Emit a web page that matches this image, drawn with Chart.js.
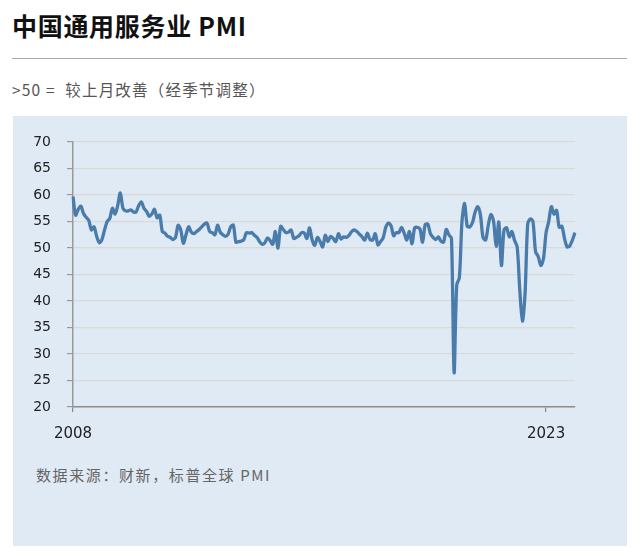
<!DOCTYPE html>
<html>
<head>
<meta charset="utf-8">
<script src="https://cdn.jsdelivr.net/npm/chart.js@4.4.0/dist/chart.umd.min.js"></script>
<style>
  body { margin: 0; width: 640px; height: 557px; background: #fff; position: relative; overflow: hidden;
         font-family: "Noto Sans CJK SC", "Noto Sans", sans-serif; }
  .title { position: absolute; left: 12px; top: 7px; font-size: 25px; font-weight: bold; color: #111; letter-spacing: 0.7px; }
  .rule { position: absolute; left: 12px; top: 58px; width: 615px; height: 0; border-top: 1.5px solid #aaa; }
  .sub { position: absolute; left: 12px; top: 78px; font-size: 15.5px; color: #555; letter-spacing: 1.2px; }
  .panel { position: absolute; left: 13px; top: 116px; width: 614px; height: 430px; background: #e0eaf5; }
  .source { position: absolute; left: 36px; top: 464px; font-size: 15px; color: #666; letter-spacing: 1.6px; }
  #wrap { position: absolute; left: 13px; top: 116px; width: 614px; height: 340px; }
</style>
</head>
<body>
<div class="title">中国通用服务业 PMI</div>
<div class="rule"></div>
<div class="sub">&gt;50 =&nbsp; 较上月改善（经季节调整）</div>
<div class="panel"></div>
<div id="wrap"><canvas id="pmi"></canvas></div>
<div class="source">数据来源：财新，标普全球 PMI</div>
<script>
// 月度数据 2008-01 至 2023-12
var years = ['2008', '2009', '2010', '2011', '2012', '2013', '2014', '2015',
             '2016', '2017', '2018', '2019', '2020', '2021', '2022', '2023'];
var tickYears = ['2008', '2023'];

var pmi2008_2011 = [
    59.7, 56.2, 57.3, 57.9, 56.5, 55.8, 55.2, 53.4, 54.0, 52.2, 51.0, 51.6,
    53.4, 55.0, 55.6, 57.5, 56.4, 58.0, 60.4, 57.5, 57.0, 57.0, 57.2, 56.8,
    56.8, 58.0, 58.7, 57.5, 56.9, 56.0, 56.4, 57.3, 55.7, 56.2, 53.1, 52.8,
    52.2, 52.0, 51.6, 52.0, 54.3, 53.4, 50.9, 52.5, 54.0, 53.0, 52.7, 53.1
];
var pmi2012_2015 = [
    53.5, 54.0, 54.5, 54.7, 53.1, 52.9, 52.5, 54.3, 53.0, 52.5, 52.2, 52.6,
    54.0, 54.3, 51.1, 51.2, 51.3, 51.6, 52.9, 52.8, 52.9, 52.4, 52.0, 51.2,
    50.7, 51.0, 51.9, 51.4, 50.7, 53.1, 50.0, 54.1, 53.5, 52.9, 53.0, 53.4,
    51.8, 52.0, 52.3, 52.9, 52.8, 51.8, 53.8, 51.5, 50.5, 52.0, 51.2, 50.2
];
var pmi2016_2019 = [
    52.4, 51.2, 52.2, 51.8, 51.2, 52.7, 51.7, 52.1, 52.0, 52.4, 53.1, 53.4,
    53.1, 52.6, 52.1, 51.5, 52.8, 51.6, 51.5, 52.7, 50.6, 51.2, 51.9, 53.9,
    54.7, 54.2, 52.3, 52.9, 52.9, 53.9, 52.8, 51.5, 53.1, 50.8, 53.8, 53.9,
    53.6, 51.1, 54.4, 54.5, 52.7, 52.0, 51.6, 52.1, 51.3, 51.1, 53.5, 52.5
];
var pmi2020_2023 = [
    51.8, 26.5, 43.0, 44.4, 55.0, 58.4, 54.1, 54.0, 54.8, 56.8, 57.8, 56.3,
    52.0, 51.5, 54.3, 56.3, 55.1, 50.3, 54.9, 46.7, 53.4, 53.8, 52.1, 53.1,
    51.4, 50.2, 42.0, 36.2, 41.4, 54.5, 55.5, 55.0, 49.3, 48.4, 46.7, 48.0,
    52.9, 55.0, 57.8, 56.4, 57.1, 53.9, 54.1, 51.8, 50.2, 50.4, 51.5, 52.9
];

var pmi = pmi2008_2011.concat(pmi2012_2015, pmi2016_2019, pmi2020_2023);

var labels = [];
years.forEach(function(y) {
    for (var m = 1; m <= 12; m++) {
        labels.push(y + '-' + (m < 10 ? '0' + m : m));
    }
});

var ctx = document.getElementById('pmi').getContext('2d');
var chart = new Chart(ctx, {
    type: 'line',
    data: {
        labels: labels,
        datasets: [{
            data: pmi,
            borderColor: '#4a7cab',
            borderWidth: 3.3,
            pointRadius: 0,
            tension: 0.3,
            fill: false
        }]
    },
    options: {
        responsive: true,
        maintainAspectRatio: false,
        animation: false,
        layout: { padding: { top: 26, right: 52, left: 0, bottom: 0 } },
        plugins: { legend: { display: false }, tooltip: { enabled: false } },
        scales: {
            x: {
                type: 'category',
                offset: false,
                grid: { drawOnChartArea: false, tickLength: 5, color: '#888', lineWidth: 1.2 },
                border: { color: '#8c8c8c', width: 1.5 },
                ticks: {
                    autoSkip: false,
                    maxRotation: 0,
                    padding: 13,
                    color: '#222',
                    font: { family: '"DejaVu Sans", sans-serif', size: 15 },
                    callback: function(val, i) {
                        var lab = labels[i];
                        if (lab.slice(5) === '01' && tickYears.indexOf(lab.slice(0, 4)) >= 0) return lab.slice(0, 4);
                        return null;
                    }
                },
                afterFit: function(scale) { scale.height = 49; }
            },
            y: {
                min: 20,
                max: 70,
                ticks: {
                    stepSize: 5,
                    padding: 16,
                    color: '#222',
                    font: { family: '"DejaVu Sans", sans-serif', size: 14 }
                },
                grid: { color: '#d9d9d9', lineWidth: 1.2, tickLength: 6, tickColor: '#999' },
                border: { color: '#999', width: 1.5 },
                afterFit: function(scale) { scale.width = 60; }
            }
        }
    }
});
</script>
</body>
</html>
